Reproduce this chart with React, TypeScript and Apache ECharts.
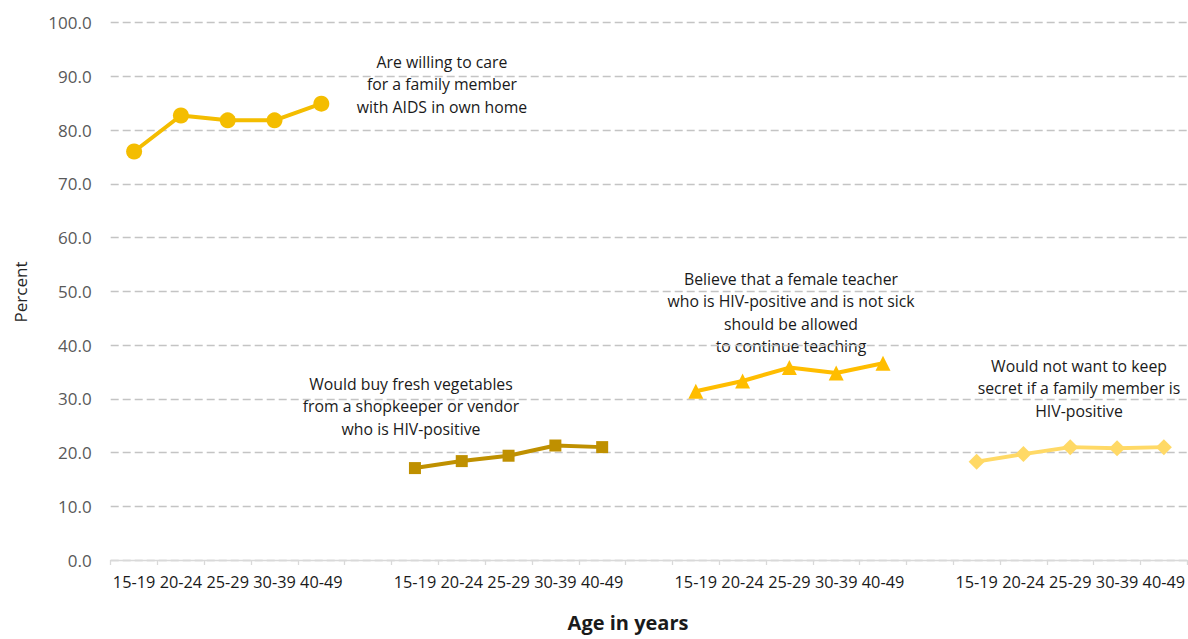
import React, { useEffect, useRef } from "react";
import * as echarts from "echarts";

// Age groups repeated once per indicator, with an empty slot between groups
const ageGroups = ["15-19", "20-24", "25-29", "30-39", "40-49"];
const groupCount = 4;

// Percent of respondents by age group, per indicator
const careForFamily = [76.0, 82.7, 81.8, 81.8, 84.9];
const buyVegetables = [17.1, 18.4, 19.4, 21.3, 21.0];
const teacherContinue = [31.4, 33.3, 35.8, 34.8, 36.6];
const notKeepSecret = [18.3, 19.7, 21.0, 20.8, 21.0];

// Y axis ticks
const yMin = 0;
const yMax = 100;
const yStep = 10;

// Annotation texts, one per indicator
const captionCare = ["Are willing to care", "for a family member", "with AIDS in own home"];
const captionVeg = ["Would buy fresh vegetables", "from a shopkeeper or vendor", "who is HIV-positive"];
const captionTeacher = [
  "Believe that a female teacher",
  "who is HIV-positive and is not sick",
  "should be allowed",
  "to continue teaching",
];
const captionSecret = ["Would not want to keep", "secret if a family member is", "HIV-positive"];

const xTitle = "Age in years";
const yTitle = "Percent";

const FONT = "'Open Sans', 'Noto Sans', sans-serif";

const categories: string[] = [];
for (let g = 0; g < groupCount; g++) {
  categories.push(...ageGroups);
  if (g < groupCount - 1) categories.push("");
}

function placeGroup(values: number[], group: number): (number | null)[] {
  const out: (number | null)[] = categories.map(() => null);
  const start = group * (ageGroups.length + 1);
  values.forEach((v, i) => {
    out[start + i] = v;
  });
  return out;
}

function lineSeries(
  name: string,
  values: number[],
  group: number,
  color: string,
  symbol: string,
  symbolSize: number
) {
  return {
    name,
    type: "line",
    data: placeGroup(values, group),
    symbol,
    symbolSize,
    connectNulls: false,
    lineStyle: { color, width: 4 },
    itemStyle: { color },
    emphasis: { disabled: true },
  };
}

function caption(lines: string[], cx: number, top: number) {
  return {
    type: "text",
    x: cx,
    y: top,
    style: {
      text: lines.join("\n"),
      font: `15.8px ${FONT}`,
      fill: "#1a1a1a",
      align: "center",
      verticalAlign: "top",
      lineHeight: 22.2,
    },
  };
}

export default function App() {
  const ref = useRef<HTMLDivElement>(null);

  useEffect(() => {
    if (!ref.current) return;
    const chart = echarts.init(ref.current, undefined, { renderer: "svg" });
    chart.setOption({
      animation: false,
      backgroundColor: "#ffffff",
      grid: { left: 110.7, right: -3.7, top: 22.5, bottom: 79, containLabel: false },
      xAxis: {
        type: "category",
        data: categories,
        boundaryGap: true,
        axisLine: { show: true, lineStyle: { color: "#d9d9d9", width: 1.3 } },
        axisTick: { show: true, alignWithLabel: false, interval: 0, length: 5, lineStyle: { color: "#d9d9d9", width: 1.3 } },
        axisLabel: { interval: 0, margin: 14, color: "#1a1a1a", fontSize: 16.3, fontFamily: FONT },
        splitLine: { show: false },
      },
      yAxis: {
        type: "value",
        min: yMin,
        max: yMax,
        interval: yStep,
        axisLine: { show: false },
        axisTick: { show: false },
        axisLabel: {
          margin: 19,
          color: "#595959",
          fontSize: 17,
          fontFamily: FONT,
          formatter: (v: number) => v.toFixed(1),
        },
        splitLine: { show: true, lineStyle: { color: "#c4c4c4", type: [8, 4], width: 1.3 } },
      },
      series: [
        lineSeries("care", careForFamily, 0, "#f4bd00", "circle", 16),
        lineSeries("vegetables", buyVegetables, 1, "#bf9000", "rect", 12),
        lineSeries("teacher", teacherContinue, 2, "#ffbd00", "triangle", 15),
        lineSeries("secret", notKeepSecret, 3, "#ffd966", "diamond", 16),
      ],
      graphic: [
        caption(captionCare, 442, 51),
        caption(captionVeg, 411, 373),
        caption(captionTeacher, 791, 268),
        caption(captionSecret, 1079, 355),
        {
          type: "text",
          x: 628,
          y: 612,
          style: {
            text: xTitle,
            font: `bold 20px ${FONT}`,
            fill: "#1a1a1a",
            align: "center",
            verticalAlign: "top",
          },
        },
        {
          type: "text",
          x: 20,
          y: 292,
          rotation: Math.PI / 2,
          style: {
            text: yTitle,
            font: `17px ${FONT}`,
            fill: "#262626",
            align: "center",
            verticalAlign: "middle",
          },
        },
      ],
    });
    return () => chart.dispose();
  }, []);

  return (
    <div
      ref={ref}
      style={{ position: "fixed", left: 0, top: 0, width: 1188, height: 639 }}
    />
  );
}
